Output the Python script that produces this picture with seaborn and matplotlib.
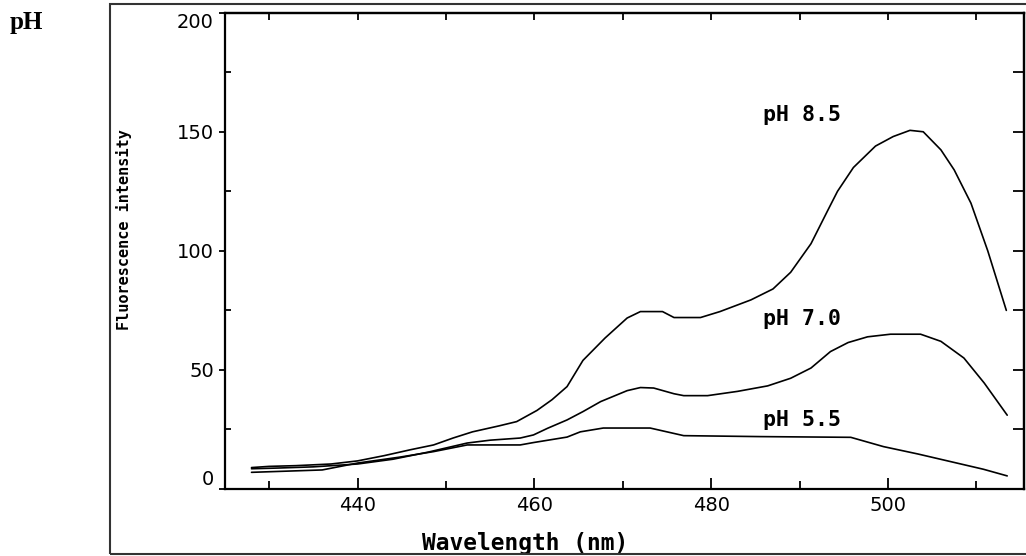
import numpy as np
import pandas as pd
import matplotlib
matplotlib.use("Agg")
import matplotlib.pyplot as plt
from matplotlib.patches import Rectangle
import seaborn as sns

# spectra (wavelength nm, fluorescence intensity)
wl_85 = [428, 430, 433, 437, 440, 443, 446, 448.6, 450.8, 453, 456, 458, 460.3, 462, 463.7,
         465.5, 468, 470.5, 472, 474.5, 475.8, 478.8, 481, 484.5, 487, 489, 491.3, 493.2,
         494.3, 496.1, 498.6, 500.6, 502.5, 504, 506, 507.5, 509.4, 511.3, 513.4]
ph_85 = [9, 9.5, 9.8, 10.5, 11.8, 14, 16.5, 18.5, 21.4, 24, 26.5, 28.3, 33, 37.5, 43,
         54, 63.4, 71.8, 74.5, 74.5, 72, 72, 74.5, 79.4, 84, 91, 103, 117,
         125, 135, 144, 148, 150.6, 150, 142.4, 134, 120, 100, 75]

wl_70 = [428, 431, 435, 440, 444, 448, 452.4, 455, 458.4, 459.9, 461.5, 463.7, 465.5, 467.5,
         470.5, 472, 473.5, 475.8, 476.9, 479.6, 483, 486.4, 489, 491.3, 493.5, 495.5,
         497.7, 500.3, 503.7, 506, 508.6, 510.9, 513.5]
ph_70 = [8.5, 8.8, 9.3, 10.5, 12.5, 15.5, 19.3, 20.5, 21.4, 22.7, 25.5, 29, 32.5, 36.7,
         41.3, 42.6, 42.4, 40, 39.2, 39.2, 41, 43.3, 46.5, 50.8, 57.7, 61.5,
         63.9, 65, 65, 62, 55, 44.5, 31]

wl_55 = [428, 432, 436, 440, 444.8, 448.6, 452.4, 458.4, 459.9, 463.7, 465.2, 467.8, 473.1,
         476.9, 485.6, 495.8, 499.5, 503.4, 507.1, 510.8, 513.5]
ph_55 = [7, 7.5, 8, 10.9, 13.4, 15.7, 18.5, 18.5, 19.5, 21.8, 24, 25.6, 25.6,
         22.4, 22, 21.7, 17.8, 14.7, 11.5, 8.3, 5.5]

labels = ["pH 8.5", "pH 7.0", "pH 5.5"]
label_y = [157, 71.4, 29]
label_x = 485.9

df = pd.concat([
    pd.DataFrame({"wavelength": wl_85, "intensity": ph_85, "ph": "8.5"}),
    pd.DataFrame({"wavelength": wl_70, "intensity": ph_70, "ph": "7.0"}),
    pd.DataFrame({"wavelength": wl_55, "intensity": ph_55, "ph": "5.5"}),
])

sns.set_style("ticks")
plt.rcParams["font.family"] = ["DejaVu Sans"]
plt.rcParams.update({"text.color": "black", "axes.labelcolor": "black",
                     "xtick.color": "black", "ytick.color": "black",
                     "axes.edgecolor": "black"})

fig = plt.figure(figsize=(10.26, 5.56), dpi=100)
ax = fig.add_axes([225 / 1026, 67 / 556, 799 / 1026, 476.3 / 556])

for ph in ["8.5", "7.0", "5.5"]:
    sub = df[df.ph == ph]
    sns.lineplot(x="wavelength", y="intensity", data=sub, ax=ax, color="black",
                 linewidth=1.2, estimator=None, sort=True, legend=False)

ax.set_xlim(425, 515.4)
ax.set_ylim(0, 200)

ax.set_xticks([440, 460, 480, 500])
ax.set_xticks(np.arange(430, 515, 10), minor=True)
ax.set_yticks([0, 50, 100, 150, 200])
ax.set_yticks([25, 75, 125, 175], minor=True)
ax.tick_params(axis="x", which="major", direction="in", length=8, width=1.3, pad=5, labelsize=14)
ax.tick_params(axis="x", which="minor", direction="in", length=6, width=1.3)
ax.tick_params(axis="y", which="major", direction="out", length=4, width=1.3, pad=4, labelsize=14)
ax.tick_params(axis="y", which="minor", direction="in", length=4, width=1.3)

# end labels sit inside the axis range, as in the original
fig.canvas.draw()
ylabs = ax.get_yticklabels()
ylabs[0].set_va("bottom")
ylabs[-1].set_va("top")

# ticks on the right and top sides
sec_y = ax.secondary_yaxis("right")
sec_y.set_yticks(np.arange(0, 201, 25))
sec_y.tick_params(direction="in", length=8, width=1.3, labelright=False)
sec_x = ax.secondary_xaxis("top")
sec_x.set_xticks(np.arange(430, 515, 10))
sec_x.tick_params(direction="in", length=5, width=1.3, labeltop=False)

for s in ax.spines.values():
    s.set_linewidth(1.6)
for s in list(sec_y.spines.values()) + list(sec_x.spines.values()):
    s.set_linewidth(1.6)

ax.set_xlabel("Wavelength (nm)", family="DejaVu Sans Mono", fontweight="bold", fontsize=16.5)
ax.xaxis.set_label_coords((525 - 225) / 799, -0.09)
ax.set_ylabel("Fluorescence intensity", family="DejaVu Sans Mono", fontweight="bold", fontsize=11)
ax.yaxis.set_label_coords((131.7 - 225) / 799, 0.545)

for txt, yv in zip(labels, label_y):
    ax.text(label_x, yv, txt, ha="left", va="center", family="DejaVu Sans Mono",
            fontweight="bold", fontsize=15.5)

# outer frame and the stray title
fig.patches.append(Rectangle((110 / 1026, 2 / 556), 1.0, 550 / 556, transform=fig.transFigure,
                             fill=False, edgecolor="#333333", linewidth=1.5))
fig.text(10 / 1026, 1 - 22 / 556, "pH", family="Liberation Serif", fontweight="bold",
         fontsize=18, ha="left", va="center")

fig.savefig("out.png", dpi=100)
